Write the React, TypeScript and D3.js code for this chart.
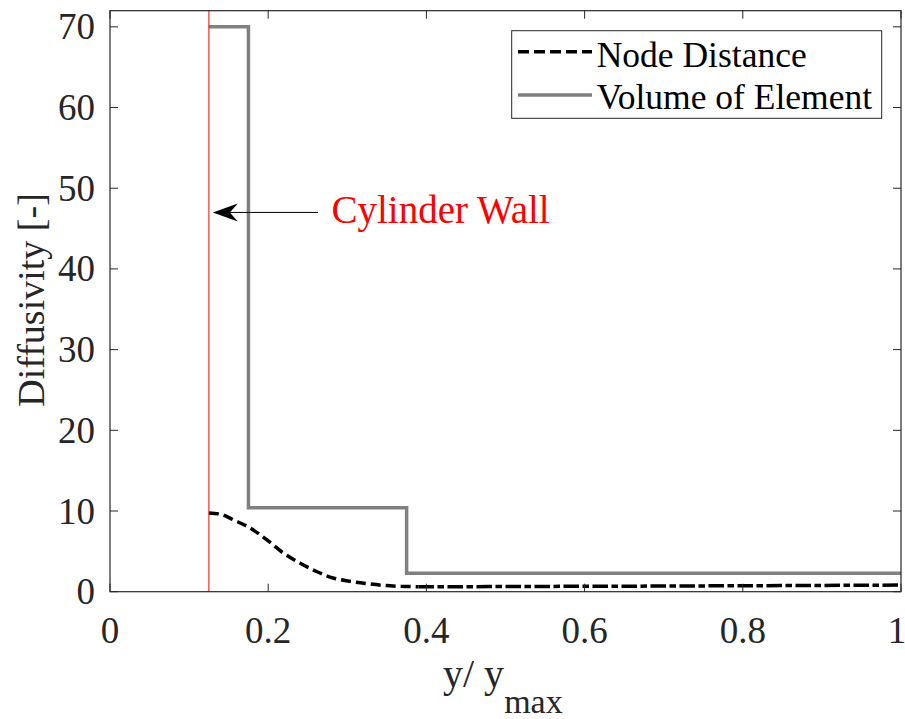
import React from "react";
import * as d3 from "d3";

const W = 905;
const H = 719;
const M = { left: 110, right: 4, top: 10.7, bottom: 127 };

const xTicks = [0, 0.2, 0.4, 0.6, 0.8, 1];
const xTickLabels = ["0", "0.2", "0.4", "0.6", "0.8", "1"];
const yTicks = [0, 10, 20, 30, 40, 50, 60, 70];
const yTickLabels = ["0", "10", "20", "30", "40", "50", "60", "70"];

const nodeX = [0.125, 0.14, 0.156, 0.177, 0.198, 0.219, 0.24, 0.261, 0.282, 0.303, 0.325, 0.346, 0.368, 0.39, 0.45, 0.5, 0.6, 0.7, 0.8, 0.9, 1.0];
const nodeY = [9.75, 9.6, 8.9, 7.9, 6.45, 4.8, 3.55, 2.5, 1.7, 1.3, 1.0, 0.78, 0.66, 0.62, 0.62, 0.64, 0.67, 0.7, 0.74, 0.78, 0.82];

const volX = [0.125, 0.175, 0.375, 1.0];
const volY = [70, 10.4, 2.3, 2.3];

const wallX = 0.125;
const arrowTip = [0.13, 47];
const arrowTail = [0.263, 47];

const seriesNames = ["Node Distance", "Volume of Element"];

const FONT = '"Liberation Serif", "Times New Roman", Times, "DejaVu Serif", serif';

export default function App() {
  const x = d3.scaleLinear().domain([0, 1]).range([M.left, W - M.right]);
  const y = d3.scaleLinear().domain([0, 72]).range([H - M.bottom - 0.3, M.top]);
  const x0 = M.left, x1 = W - M.right, y0 = H - M.bottom - 0.3, y1 = M.top;

  const nodePts = nodeX.map((v, i) => [v, nodeY[i]] as [number, number]);
  const splitIdx = nodeX.indexOf(0.39);
  const curvePart = nodePts.slice(0, splitIdx + 1);
  const tailPart = nodePts.slice(splitIdx);
  const lineGen = d3.line<[number, number]>().x(d => x(d[0])).y(d => y(d[1])).curve(d3.curveMonotoneX);
  const volPts = volX.map((v, i) => [v, volY[i]] as [number, number]);
  const stepGen = d3.line<[number, number]>().x(d => x(d[0])).y(d => y(d[1])).curve(d3.curveStepAfter);

  const axisColor = "#262626";
  const tickLen = 8;

  const tipX = x(arrowTip[0]), tipY = y(arrowTip[1]);
  const tailX = x(arrowTail[0]);
  const ts = { fontFamily: FONT } as React.CSSProperties;

  return (
    <svg width={W} height={H} style={{ position: "absolute", left: 0, top: 0, background: "#fff", fontFamily: FONT }}>
      <rect x={0} y={0} width={W} height={H} fill="#fff" />
      {/* series */}
      <path d={stepGen(volPts) || ""} fill="none" stroke="#808080" strokeWidth={3.5} />
      <path d={lineGen(curvePart) || ""} fill="none" stroke="#000" strokeWidth={3.5} strokeDasharray="10,5" />
      <path d={lineGen(tailPart) || ""} fill="none" stroke="#000" strokeWidth={3.5} strokeDasharray="15.5,3.5,6.5,3.5" />
      {/* wall */}
      <line x1={x(wallX)} x2={x(wallX)} y1={y0} y2={y1} stroke="#ff0000" strokeWidth={1} />
      {/* arrow */}
      <line x1={tailX} x2={tipX + 10} y1={tipY} y2={tipY} stroke="#000" strokeWidth={1} />
      <path d={`M${tipX},${tipY} L${tipX + 25},${tipY - 9} L${tipX + 17},${tipY} L${tipX + 25},${tipY + 9} Z`} fill="#000" />
      <text style={ts} x={331.5} y={tipY + 11} fill="#ff0000" fontSize={39}>Cylinder Wall</text>
      {/* axes box */}
      <rect x={x0} y={y1} width={x1 - x0} height={y0 - y1} fill="none" stroke={axisColor} strokeWidth={1.2} />
      {xTicks.map((t, i) => (
        <g key={"xt" + i}>
          <line x1={x(t)} x2={x(t)} y1={y0} y2={y0 - tickLen} stroke={axisColor} strokeWidth={1} />
          <line x1={x(t)} x2={x(t)} y1={y1} y2={y1 + tickLen} stroke={axisColor} strokeWidth={1} />
          <text style={ts} x={i === xTicks.length - 1 ? x(t) - 4 : x(t)} y={642.5} textAnchor="middle" fontSize={37} fill={axisColor}>{xTickLabels[i]}</text>
        </g>
      ))}
      {yTicks.map((t, i) => (
        <g key={"yt" + i}>
          <line x1={x0} x2={x0 + tickLen} y1={y(t)} y2={y(t)} stroke={axisColor} strokeWidth={1} />
          <line x1={x1} x2={x1 - tickLen} y1={y(t)} y2={y(t)} stroke={axisColor} strokeWidth={1} />
          <text style={ts} x={95} y={y(t) + 12.5} textAnchor="end" fontSize={37} fill={axisColor}>{yTickLabels[i]}</text>
        </g>
      ))}
      {/* axis labels */}
      <text style={ts} x={443} y={686.5} fontSize={40} fill={axisColor}>
        y/ y<tspan dy={26} fontSize={34}>max</tspan>
      </text>
      <text style={ts} transform={`translate(44,300) rotate(-90)`} textAnchor="middle" fontSize={38} fill={axisColor}>Diffusivity [-]</text>
      {/* legend */}
      <rect x={511.7} y={30.7} width={370} height={87.6} fill="#fff" stroke={axisColor} strokeWidth={1} />
      <line x1={518} x2={592} y1={51.7} y2={51.7} stroke="#000" strokeWidth={3.5} strokeDasharray="11,5" />
      <line x1={518} x2={592} y1={95} y2={95} stroke="#808080" strokeWidth={3.5} />
      <text style={ts} x={596.7} y={66.7} fontSize={35.5} fill="#000">{seriesNames[0]}</text>
      <text style={ts} x={596.7} y={108.5} fontSize={35.5} fill="#000">{seriesNames[1]}</text>
    </svg>
  );
}
